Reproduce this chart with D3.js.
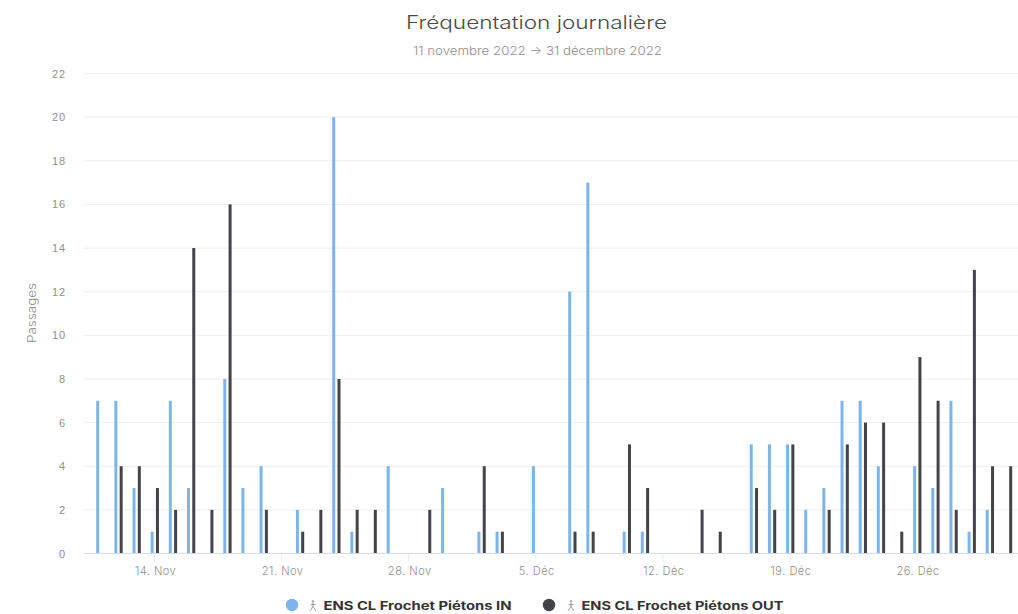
<!DOCTYPE html>
<html><head><meta charset="utf-8">
<script src="https://cdn.jsdelivr.net/npm/d3@7/dist/d3.min.js"></script>
<style>
html,body{margin:0;padding:0;background:#fff;}
svg{display:block;font-family:"Inter","Open Sans",sans-serif;}
.grid line{stroke:#efefef;stroke-width:1;}
</style></head><body>
<svg id="c" width="1018" height="614"></svg>
<script>
const titleText = "Fréquentation journalière";
const subtitleText = "11 novembre 2022 → 31 décembre 2022";
const yAxisLabel = "Passages";
const seriesNames = ["ENS CL Frochet Piétons IN", "ENS CL Frochet Piétons OUT"];
const startDate = "2022-11-11";
const tickDates = ["2022-11-14","2022-11-21","2022-11-28","2022-12-05","2022-12-12","2022-12-19","2022-12-26"];
const tickLabels = ["14. Nov","21. Nov","28. Nov","5. Déc","12. Déc","19. Déc","26. Déc"];
const yTicks = [0,2,4,6,8,10,12,14,16,18,20,22];
const valuesIn = [7,7,3,1,7,3,0,8,3,4,0,2,0,20,1,0,4,0,0,3,
  0,1,1,0,4,0,12,17,0,1,1,0,0,0,0,0,5,5,5,2,3,7,7,4,0,4,3,7,1,2,0];
const valuesOut = [0,4,4,3,2,14,2,16,0,2,0,1,2,8,2,2,0,0,2,0,
  0,4,1,0,0,0,1,1,0,5,3,0,0,2,1,0,3,2,5,0,2,5,6,6,1,9,7,2,13,4,4];
const colors = ["#7cb5ec","#434348"];

const svg = d3.select("#c");
const parse = d3.utcParse("%Y-%m-%d");
const t0 = parse(startDate);
const dayOf = i => d3.utcDay.offset(t0, i);
const x = d3.scaleUtc().domain([t0, dayOf(50)]).range([99.6, 1007.3]);
const y = d3.scaleLinear().domain([0,22]).range([553.5,73.5]);
const barW = 3;
const offs = [-1.9, 3.4];

// grid
svg.append("g").attr("class","grid").selectAll("line").data(yTicks.filter(d=>d>0)).join("line")
  .attr("x1",84).attr("x2",1018).attr("y1",d=>y(d)).attr("y2",d=>y(d));

// bars
[valuesIn, valuesOut].forEach((vals,s)=>{
  svg.append("g").selectAll("rect").data(vals.map((v,i)=>({v,i})).filter(d=>d.v>0)).join("rect")
    .attr("x",d=>x(dayOf(d.i))+offs[s]-barW/2)
    .attr("width",barW)
    .attr("y",d=>y(d.v))
    .attr("height",d=>y(0)-y(d.v))
    .attr("fill",colors[s]);
});

// x axis
const xAxis = d3.axisBottom(x).tickValues(tickDates.map(parse))
  .tickFormat((d,i)=>tickLabels[i]).tickSize(8).tickPadding(6);
const gx = svg.append("g").attr("transform","translate(0,553.5)").call(xAxis);
gx.select(".domain").attr("d","M84,0H1018").attr("stroke","#d5dbe8");
gx.selectAll(".tick line").attr("stroke","#e6eaf3");
gx.selectAll(".tick text").attr("fill","#909090").attr("font-size",11).attr("dx",1)
  .attr("letter-spacing",".5").attr("font-family","Inter").attr("font-weight",300);

// y axis
const yAxis = d3.axisLeft(y).tickValues(yTicks).tickSize(0).tickPadding(0);
const gy = svg.append("g").attr("transform","translate(66,0)").call(yAxis);
gy.select(".domain").remove();
gy.selectAll(".tick text").attr("fill","#909090").attr("font-size",11).attr("letter-spacing",".9").attr("font-weight",300);

svg.append("text").attr("transform","translate(36,313) rotate(-90)").attr("text-anchor","middle")
  .attr("fill","#909090").attr("font-size",11.5).attr("font-weight",300)
  .attr("textLength",60).attr("lengthAdjust","spacingAndGlyphs").text(yAxisLabel);

// titles
svg.append("text").attr("x",536.5).attr("y",29).attr("text-anchor","middle")
  .attr("fill","#4a4a4a").attr("font-size",18).attr("font-weight",300)
  .attr("textLength",261).attr("lengthAdjust","spacingAndGlyphs").text(titleText);
svg.append("text").attr("x",537.5).attr("y",55).attr("text-anchor","middle")
  .attr("fill","#909090").attr("font-size",11.5).attr("font-weight",300)
  .attr("textLength",249).attr("lengthAdjust","spacingAndGlyphs").text(subtitleText);

// legend
const legendX = [292, 549], textX = [323.5, 581.5], textW = [188, 202], iconX = [313, 571];
const walker = "M-.9,-4.6a.9,.9 0 1 0 1.8,0a.9,.9 0 1 0 -1.8,0M0,-3.2V0.4M0,0.4L-3,5M0,0.4L3,5M-2.6,-1.4L2.6,-1.4";
seriesNames.forEach((n,s)=>{
  const g = svg.append("g");
  g.append("circle").attr("cx",legendX[s]).attr("cy",605).attr("r",6.2).attr("fill",colors[s]);
  g.append("path").attr("transform",`translate(${iconX[s]},606)`).attr("d",walker)
    .attr("fill","none").attr("stroke","#777").attr("stroke-width",.7);
  g.append("text").attr("x",textX[s]).attr("y",610).attr("fill","#333").attr("font-size",11.5)
    .attr("font-weight",700).attr("textLength",textW[s]).attr("lengthAdjust","spacingAndGlyphs").text(n);
});
</script></body></html>
